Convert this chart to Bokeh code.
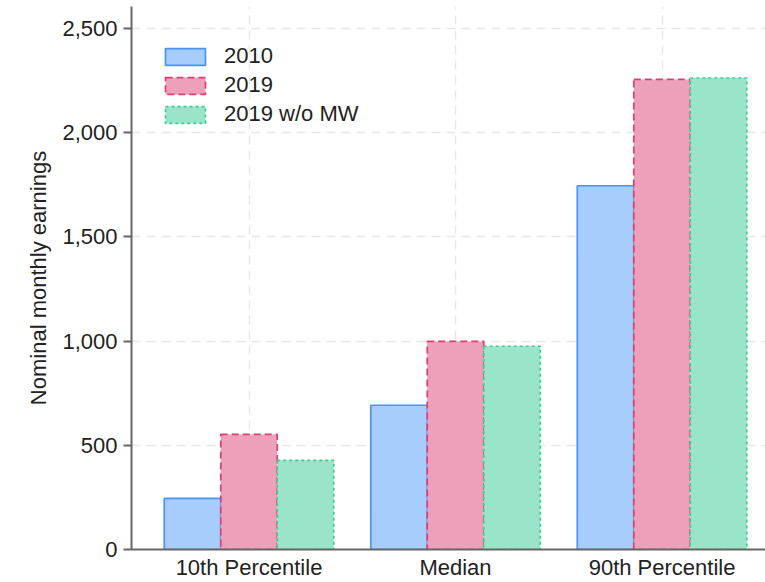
from bokeh.plotting import figure
from bokeh.models import Range1d, FixedTicker, NumeralTickFormatter, Legend, LegendItem, CustomJSTickFormatter
from bokeh.embed import file_html
from bokeh.resources import INLINE

categories = ["10th Percentile", "Median", "90th Percentile"]
series_names = ["2010", "2019", "2019 w/o MW"]
values_2010 = [245, 692, 1745]
values_2019 = [552, 998, 2255]
values_2019_no_mw = [428, 975, 2262]
y_ticks = [0, 500, 1000, 1500, 2000, 2500]

fills = ["#a6cdfb", "#eea0bb", "#9ae5c9"]
lines = ["#4a94f5", "#db3f76", "#3ccd8f"]
dashes = ["solid", "7 4", "3 3"]

FONT = "Liberation Sans"

p = figure(width=765, height=582, output_backend="svg", toolbar_location=None,
           x_range=Range1d(0.431, 3.501), y_range=Range1d(0, 2605),
           min_border_left=131, min_border_bottom=33, min_border_top=6, min_border_right=0)
p.outline_line_color = None

xs = [1, 2, 3]
bw = 0.2736
offsets = [-bw, 0, bw]
series = [values_2010, values_2019, values_2019_no_mw]
items = []
for i, vals in enumerate(series):
    r = p.vbar(x=[x + offsets[i] for x in xs], top=vals, bottom=0, width=bw,
               fill_color=fills[i], line_color=lines[i], line_width=1.7,
               line_dash=dashes[i])
    items.append(LegendItem(label=series_names[i], renderers=[r]))

# axes
p.xaxis.ticker = FixedTicker(ticks=xs)
p.xaxis.formatter = CustomJSTickFormatter(code="""
const labels = %s;
return labels[Math.round(tick) - 1];
""" % str(categories))
p.xaxis.major_tick_line_color = None
p.xaxis.major_tick_out = 0
p.xaxis.major_tick_in = 0
p.xaxis.minor_tick_line_color = None
p.xaxis.major_label_text_font = FONT
p.xaxis.major_label_text_font_size = "22px"
p.xaxis.major_label_text_color = "#222222"
p.xaxis.major_label_standoff = 5
p.xaxis.axis_line_color = "#666666"
p.xaxis.axis_line_width = 2

p.yaxis.ticker = FixedTicker(ticks=y_ticks)
p.yaxis.formatter = NumeralTickFormatter(format="0,0")
p.yaxis.minor_tick_line_color = None
p.yaxis.major_tick_out = 8
p.yaxis.major_tick_in = 0
p.yaxis.major_tick_line_color = "#666666"
p.yaxis.major_tick_line_width = 2
p.yaxis.axis_line_color = "#666666"
p.yaxis.axis_line_width = 2
p.yaxis.major_label_text_font = FONT
p.yaxis.major_label_text_font_size = "22px"
p.yaxis.major_label_text_color = "#222222"
p.yaxis.major_label_standoff = 6
p.yaxis.axis_label = "Nominal monthly earnings"
p.yaxis.axis_label_text_font = FONT
p.yaxis.axis_label_text_font_size = "22px"
p.yaxis.axis_label_text_font_style = "normal"
p.yaxis.axis_label_text_color = "#222222"
p.yaxis.axis_label_standoff = 8

# grids
p.xgrid.ticker = FixedTicker(ticks=xs)
p.xgrid.grid_line_color = "#e8e8e8"
p.xgrid.grid_line_dash = "9 6"
p.xgrid.grid_line_width = 1.5
p.ygrid.grid_line_color = "#e8e8e8"
p.ygrid.grid_line_dash = "9 6"
p.ygrid.grid_line_width = 1.5

legend = Legend(items=items, location=(19, 412), margin=0, padding=10,
                glyph_width=50, glyph_height=21, label_height=21, spacing=3,
                label_standoff=14, label_text_font=FONT, label_text_font_size="22px",
                label_text_color="#222222",
                border_line_alpha=0, background_fill_alpha=0)
p.add_layout(legend)

open("out.html", "w").write(file_html(p, INLINE))
